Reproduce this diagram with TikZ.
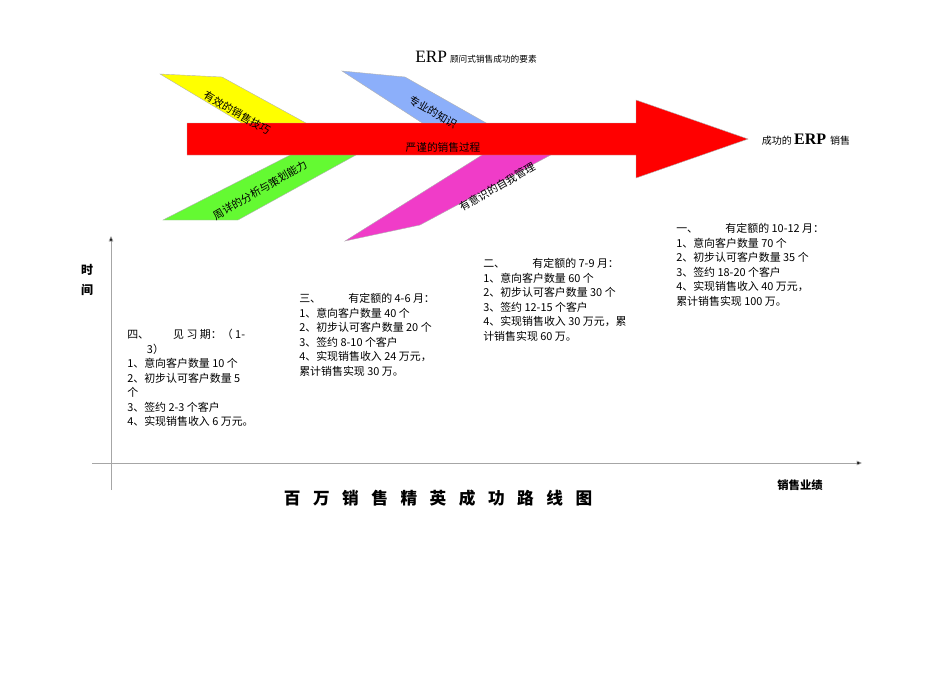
\documentclass[tikz,border=0pt]{standalone}
\usepackage{fontspec}
\setmainfont{Liberation Serif}
\newfontfamily\cjk{Noto Sans CJK SC}
\usetikzlibrary{arrows.meta}
\definecolor{cyel}{RGB}{255,255,0}
\definecolor{cblu}{RGB}{140,175,250}
\definecolor{cgrn}{RGB}{100,250,50}
\definecolor{cmag}{RGB}{240,60,200}
\newcommand{\gp}{\hspace{0.75em}}
\begin{document}
\begin{tikzpicture}[x=0.75pt,y=-0.75pt,
  blk/.style={anchor=north west,align=left,inner sep=0pt,font=\cjk\fontsize{8.2}{10.9}\selectfont},
  lbl/.style={font=\cjk\fontsize{8}{9}\selectfont,inner sep=0pt},
  fin/.style={draw=gray!60,line width=0.3pt},
  ax/.style={draw=gray!70,line width=0.5pt,-{Triangle[length=4pt,width=3.5pt,fill=black]}}]
\useasboundingbox (0,0) rectangle (950,672);
\fill[cyel,fin] (160,74)--(222,77)--(315,128)--(250,128)--cycle;
\fill[cblu,fin] (342,71)--(405,77)--(495,128)--(430,128)--cycle;
\fill[cgrn,fin] (163,220)--(238,220)--(365,150)--(300,150)--cycle;
\fill[cmag,fin] (345,241)--(420,225)--(560,150)--(490,150)--cycle;
\fill[red,fin] (187,123)--(636,123)--(636,100)--(748,139)--(636,178)--(636,155)--(187,155)--cycle;
\node[lbl,rotate=-30] (t1) at (237,113) {有效的销售技巧};
\node[lbl,rotate=-30] (t2) at (433,112) {专业的知识};
\node[lbl,rotate=30] (t3) at (260,190) {周详的分析与策划能力};
\node[lbl,rotate=30] (t4) at (497,187) {有意识的自我管理};
\node[lbl] (t5) at (443,147) {严谨的销售过程};
\node[inner sep=0pt] (title) at (476,57) {\fontsize{13}{13}\selectfont ERP\,\cjk\fontsize{6.5}{7}\selectfont 顾问式销售成功的要素};
\node[inner sep=0pt] (goal) at (806,140) {\cjk\fontsize{7.5}{8}\selectfont 成功的 \rmfamily\bfseries\fontsize{12}{12}\selectfont ERP \cjk\mdseries\fontsize{7.5}{8}\selectfont 销售};
\coordinate (ya) at (111,490); \coordinate (yb) at (111,236);
\coordinate (xa) at (92,463); \coordinate (xb) at (862,463);
\draw[ax] (ya)--(yb);
\draw[ax] (xa)--(xb);
\node[font=\cjk\bfseries\fontsize{9}{15}\selectfont,align=center] (ylab) at (87,280) {时\\间};
\node[font=\cjk\bfseries\fontsize{8.5}{9}\selectfont] (xlab) at (800,485) {销售业绩};
\node[font=\cjk\bfseries\fontsize{12.5}{13}\selectfont] (main) at (438,498) {百\gp 万\gp 销\gp 售\gp 精\gp 英\gp 成\gp 功\gp 路\gp 线\gp 图};
\node[blk] (b4) at (127,329) {四、\hspace{2.2em}见\ 习\ 期：（ 1-\\\hspace{1.8em}3）\\1、意向客户数量 10 个\\2、初步认可客户数量 5\\个\\3、签约 2-3 个客户\\4、实现销售收入 6 万元。};
\node[blk] (b3) at (299,293) {三、\hspace{2.5em}有定额的 4-6 月：\\1、意向客户数量 40 个\\2、初步认可客户数量 20 个\\3、签约 8-10 个客户\\4、实现销售收入 24 万元，\\累计销售实现 30 万。};
\node[blk] (b2) at (483,258) {二、\hspace{2.5em}有定额的 7-9 月：\\1、意向客户数量 60 个\\2、初步认可客户数量 30 个\\3、签约 12-15 个客户\\4、实现销售收入 30 万元，累\\计销售实现 60 万。};
\node[blk] (b1) at (676,223) {一、\hspace{2.5em}有定额的 10-12 月：\\1、意向客户数量 70 个\\2、初步认可客户数量 35 个\\3、签约 18-20 个客户\\4、实现销售收入 40 万元，\\累计销售实现 100 万。};
\end{tikzpicture}
\end{document}
